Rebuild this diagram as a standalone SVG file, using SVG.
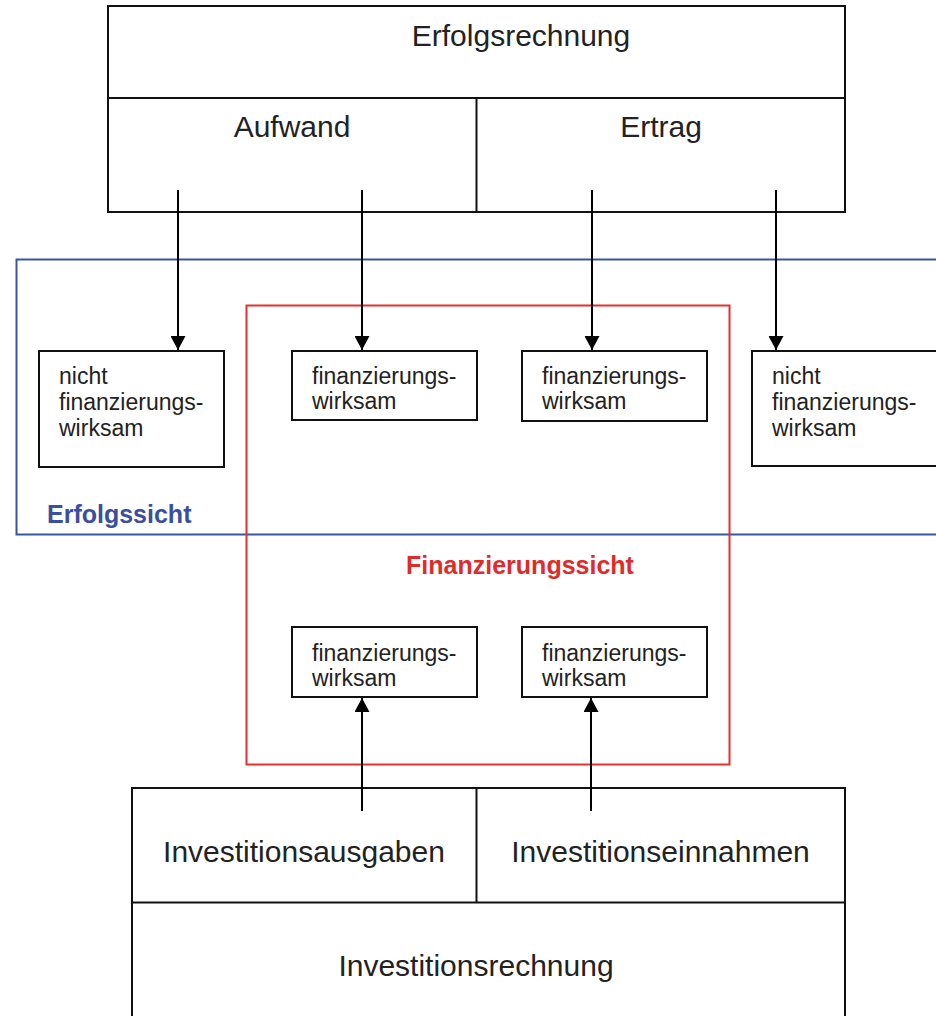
<svg xmlns="http://www.w3.org/2000/svg" width="936" height="1016" viewBox="0 0 936 1016">
<style>
.box{fill:#fff;stroke:#111;stroke-width:2}
.div{stroke:#111;stroke-width:2;fill:none}
.big{font-family:"Liberation Sans",Arial,sans-serif;font-size:30px;fill:#222}
.small{font-family:"Liberation Sans",Arial,sans-serif;font-size:23px;fill:#222}
.conn{stroke:#000;stroke-width:2;fill:none}
</style>
<defs>
<marker id="ah" markerUnits="userSpaceOnUse" markerWidth="15" markerHeight="15" refX="14" refY="7.5" orient="auto">
<path d="M0,0 L14,7.5 L0,15 z" fill="#000"/>
</marker>
</defs>
<rect width="936" height="1016" fill="#fff"/>

<g id="erfolgssicht">
<rect x="16.5" y="259.5" width="940" height="275" fill="none" stroke="#3a54a4" stroke-width="2"/>
<text x="47" y="523" font-family="'Liberation Sans',Arial,sans-serif" font-size="25" font-weight="bold" fill="#3a4f9e">Erfolgssicht</text>
</g>

<g id="finanzierungssicht">
<rect x="246.5" y="305.5" width="483" height="459" fill="none" stroke="#e4312f" stroke-width="2"/>
<text x="520" y="574" text-anchor="middle" font-family="'Liberation Sans',Arial,sans-serif" font-size="25" font-weight="bold" fill="#e02b2b">Finanzierungssicht</text>
</g>

<g id="erfolgsrechnung">
<rect class="box" x="108" y="6" width="737" height="206"/>
<line class="div" x1="108" y1="98" x2="845" y2="98"/>
<line class="div" x1="476.5" y1="98" x2="476.5" y2="212"/>
<text class="big" x="521" y="46" text-anchor="middle">Erfolgsrechnung</text>
</g>
<g id="aufwand"><text class="big" x="292" y="137" text-anchor="middle">Aufwand</text></g>
<g id="ertrag"><text class="big" x="661" y="137" text-anchor="middle">Ertrag</text></g>

<g id="n1">
<rect class="box" x="39" y="351" width="185" height="116"/>
<text class="small" x="59" y="384">nicht</text>
<text class="small" x="59" y="410">finanzierungs-</text>
<text class="small" x="59" y="436">wirksam</text>
</g>
<g id="n2">
<rect class="box" x="292" y="351" width="185" height="69"/>
<text class="small" x="312" y="384">finanzierungs-</text>
<text class="small" x="312" y="409">wirksam</text>
</g>
<g id="n3">
<rect class="box" x="522" y="351" width="185" height="70"/>
<text class="small" x="542" y="384">finanzierungs-</text>
<text class="small" x="542" y="409">wirksam</text>
</g>
<g id="n4">
<rect class="box" x="752" y="351" width="200" height="115"/>
<text class="small" x="772" y="384">nicht</text>
<text class="small" x="772" y="410">finanzierungs-</text>
<text class="small" x="772" y="436">wirksam</text>
</g>
<g id="n5">
<rect class="box" x="292" y="627" width="185" height="70"/>
<text class="small" x="312" y="661">finanzierungs-</text>
<text class="small" x="312" y="686">wirksam</text>
</g>
<g id="n6">
<rect class="box" x="522" y="627" width="185" height="70"/>
<text class="small" x="542" y="661">finanzierungs-</text>
<text class="small" x="542" y="686">wirksam</text>
</g>

<g id="investitionsrechnung">
<rect class="box" x="132" y="788" width="713" height="240"/>
<line class="div" x1="132" y1="902.5" x2="845" y2="902.5"/>
<line class="div" x1="476.5" y1="788" x2="476.5" y2="902"/>
<text class="big" x="476" y="976" text-anchor="middle">Investitionsrechnung</text>
</g>
<g id="investitionsausgaben"><text class="big" x="304" y="862" text-anchor="middle">Investitionsausgaben</text></g>
<g id="investitionseinnahmen"><text class="big" x="660.5" y="862" text-anchor="middle">Investitionseinnahmen</text></g>

<g id="connectors">
<line class="conn" x1="178" y1="190" x2="178" y2="350" marker-end="url(#ah)"/>
<line class="conn" x1="362" y1="190" x2="362" y2="350" marker-end="url(#ah)"/>
<line class="conn" x1="592" y1="190" x2="592" y2="350" marker-end="url(#ah)"/>
<line class="conn" x1="776" y1="190" x2="776" y2="350" marker-end="url(#ah)"/>
<line class="conn" x1="362" y1="811" x2="362" y2="698" marker-end="url(#ah)"/>
<line class="conn" x1="591" y1="811" x2="591" y2="698" marker-end="url(#ah)"/>
</g>
</svg>
